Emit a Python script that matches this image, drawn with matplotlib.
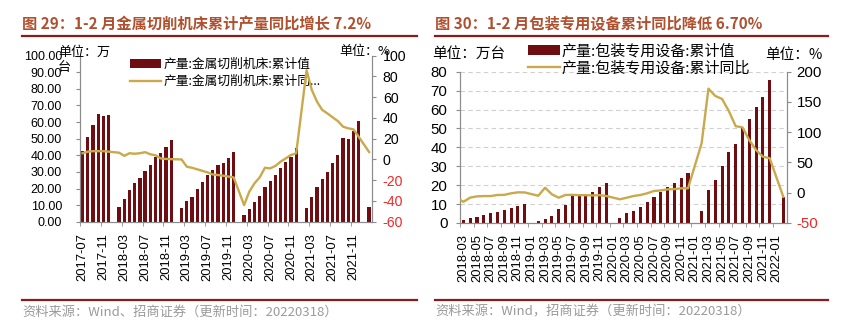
import numpy as np
import pandas as pd
import matplotlib
matplotlib.use("Agg")
import matplotlib.pyplot as plt
from matplotlib.lines import Line2D

plt.rcParams['font.family'] = ['Liberation Sans', 'Noto Sans CJK SC', 'DejaVu Sans']
plt.rcParams['axes.unicode_minus'] = False

nan = np.nan

# ---- 图29 金属切削机床 ----
months_29 = list(pd.period_range('2017-07', '2022-02', freq='M').strftime('%Y-%m'))
cut_val = [42.6, 51.2, 58.0, 64.9, 63.7, 64.5,
           nan, 9.0, 13.5, 19.0, 23.5, 26.3, 30.3, 34.1, 38.8, 41.2, 45.2, 49.2,
           nan, 8.4, 12.2, 14.7, 19.5, 24.1, 28.1, 31.1, 34.1, 35.3, 38.2, 41.8,
           nan, 4.0, 7.4, 11.6, 15.7, 20.9, 24.3, 28.3, 32.5, 36.1, 39.2, 44.5,
           nan, 8.0, 14.7, 20.7, 25.5, 29.9, 35.1, 40.2, 50.6, 49.6, 54.6, 60.4,
           nan, 9.0]
cut_yoy = [6.0, 7.5, 8.0, 8.0, 8.0, 7.5,
           nan, 6.5, 3.5, 6.0, 5.5, 6.0, 7.0, 5.0, 4.0, 1.0, 0.5, 0.3,
           nan, 0.0, -7.0, -8.0, -9.5, -11.0, -12.5, -14.5, -15.0, -15.7, -16.5, -17.3,
           nan, -44.0, -31.0, -23.0, -17.3, -8.0, -8.6, -6.3, -2.2, 1.0, 4.3, 5.9,
           nan, 86.0, 67.0, 55.7, 47.7, 44.4, 40.6, 37.0, 31.6, 30.0, 29.0, 21.9,
           nan, 7.2]

# ---- 图30 包装专用设备 ----
months_30 = list(pd.period_range('2018-02', '2022-02', freq='M').strftime('%Y-%m'))
pack_val = [nan, 1.6, 2.6, 3.3, 4.2, 5.1, 6.0, 6.9, 8.1, 9.2, 9.9,
            nan, 1.1, 1.9, 3.7, 7.2, 9.5, 15.3, 15.3, 14.4, 16.4, 18.9, 21.0,
            nan, 2.7, 5.1, 6.6, 8.6, 11.2, 13.8, 16.2, 18.9, 21.4, 24.0, 26.3,
            nan, 6.1, 17.3, 22.7, 30.3, 37.4, 41.8, 50.0, 55.0, 61.5, 66.4, 75.6,
            nan, 13.6]
pack_yoy = [-8.0, -15.0, -8.0, -6.0, -5.5, -5.5, -3.7, -3.5, -1.0, 0.7, 0.5,
            nan, -5.0, 8.3, -2.6, -8.2, -3.7, -3.5, -4.0, -4.0, -4.5, -4.0, -5.4,
            nan, -10.8, -8.2, -5.4, -3.7, -0.9, 2.9, 3.8, 5.6, 6.0, 7.3, 7.3,
            nan, 81.7, 172.0, 160.0, 155.0, 135.0, 110.0, 108.0, 87.0, 70.6, 59.6, 57.0,
            nan, -6.7]

BAR = '#6E0E12'
LINE = '#C9A94B'
TITLE = '#B0502F'
RULE = '#8C1C1C'
SPINE = '#8C8C8C'
NEG = '#F02828'
CJK = ['Noto Sans CJK SC', 'DejaVu Sans']

W, H = 853, 335
fig = plt.figure(figsize=(W / 100, H / 100), dpi=100)


def px(x, y):
    return x / W, 1 - y / H


def axes_box(l, t, r, b):
    return [l / W, 1 - b / H, (r - l) / W, (b - t) / H]


def draw_panel(box, months, vals, yoy, ymax, ystep, fmt, y2lim, y2step,
               first_lab, lab_step, xlim, bar_w, sizes, labels, leg_anchor, leg_kw, grid):
    ax = fig.add_axes(box)
    ax2 = ax.twinx()
    x = np.arange(len(months))
    vals = np.array(vals)
    yoy = np.array(yoy)
    bars = ax.bar(x, vals, width=bar_w, color=BAR, zorder=2)
    ok = ~np.isnan(yoy)
    ln, = ax2.plot(x[ok], yoy[ok], color=LINE, lw=1.7, zorder=3)

    ax.set_xlim(*xlim)
    ax.set_ylim(0, ymax)
    ax.set_yticks(np.arange(0, ymax + 0.01, ystep))
    ax.set_yticklabels([fmt % v for v in np.arange(0, ymax + 0.01, ystep)])
    ax2.set_ylim(*y2lim)
    t2 = np.arange(y2lim[0], y2lim[1] + 0.01, y2step)
    ax2.set_yticks(t2)
    ax2.set_yticklabels(['%d' % v for v in t2])
    for lab, v in zip(ax2.get_yticklabels(), t2):
        lab.set_color(NEG if v < 0 else 'black')

    labx = np.arange(first_lab, len(months), lab_step)
    labx = labx[labx < xlim[1]]
    ax.set_xticks(labx)
    ax.set_xticklabels([months[i] for i in labx], rotation=90, fontsize=sizes['x'])
    ax.set_xticks(labx - 0.5, minor=True)
    ax.tick_params(axis='x', which='major', length=0, pad=sizes['xpad'])
    ax.tick_params(axis='x', which='minor', length=3, color=SPINE, direction='out')
    ax.tick_params(axis='y', length=3, color=SPINE, labelsize=sizes['y'], pad=sizes['ypad'])
    ax2.tick_params(axis='y', length=3, color=SPINE, labelsize=sizes['y2'], pad=sizes['y2pad'])

    for a in (ax, ax2):
        a.spines['top'].set_visible(False)
        for s in ('left', 'right', 'bottom'):
            a.spines[s].set_color(SPINE)
    if grid:
        ax.yaxis.grid(True, color='#D0D0D0', ls=(0, (4, 3)), lw=0.8, zorder=0)
        ax.set_axisbelow(True)

    ax.legend([bars, ln], labels, loc='upper left', bbox_to_anchor=px(*leg_anchor),
              bbox_transform=fig.transFigure, frameon=False, borderpad=0, borderaxespad=0,
              prop={'family': CJK, 'size': sizes['leg']}, **leg_kw)
    return ax, ax2


draw_panel(axes_box(80, 55.7, 371.7, 221.7), months_29, cut_val, cut_yoy,
           100, 10, '%.2f', (-60, 100), 20, 0, 4, (-0.5, 55.5), 0.62,
           {'x': 9.4, 'xpad': 8, 'y': 9.0, 'ypad': 10, 'y2': 10.2, 'y2pad': 5, 'leg': 9.2},
           ['产量:金属切削机床:累计值', '产量:金属切削机床:累计同...'],
           (130, 58), {'handlelength': 2.4, 'handletextpad': 0.2, 'labelspacing': 0.32},
           False)

draw_panel(axes_box(460, 71.7, 786.7, 223), months_30, pack_val, pack_yoy,
           80, 10, '%d', (-50, 200), 50, 1, 2, (0.5, 48.5), 0.45,
           {'x': 9.4, 'xpad': 8, 'y': 10.8, 'ypad': 6, 'y2': 10.8, 'y2pad': 4, 'leg': 10.8},
           ['产量:包装专用设备:累计值', '产量:包装专用设备:累计同比'],
           (528, 43.5), {'handlelength': 2.1, 'handletextpad': 0.15, 'labelspacing': 0.2},
           True)

# unit notes
fig.text(*px(58, 52), '单位：万', family=CJK, fontsize=9.4, va='center', ha='left')
fig.text(*px(58, 67), '台', family=CJK, fontsize=9.4, va='center', ha='left')
fig.text(*px(339, 52), '单位：%', family=CJK, fontsize=9.4, va='center', ha='left')
fig.text(*px(432, 54), '单位：万台', family=CJK, fontsize=10.5, va='center', ha='left')
fig.text(*px(765, 55), '单位：%', family=CJK, fontsize=10.5, va='center', ha='left')

# titles, rules and source notes
titles = ['图 29：1-2 月金属切削机床累计产量同比增长 7.2%',
          '图 30：1-2 月包装专用设备累计同比降低 6.70%']
sources = ['资料来源：Wind、招商证券（更新时间：20220318）',
           '资料来源：Wind，招商证券（更新时间：20220318）']
for (l, r), t, s in zip([(22, 417), (435, 828)], titles, sources):
    fig.text(*px(l, 24), t, family=CJK, fontsize=11, fontweight='bold', color=TITLE,
             va='center', ha='left')
    fig.add_artist(Line2D([l / W, r / W], [1 - 36 / H] * 2, color=RULE, lw=1.6))
    fig.add_artist(Line2D([l / W, r / W], [1 - 300 / H] * 2, color=RULE, lw=1.6))
    fig.text(*px(l, 312), s, family=CJK, fontsize=9.5, color='#9A9A9A',
             va='center', ha='left')

fig.savefig('out.png', dpi=100, facecolor='white')
